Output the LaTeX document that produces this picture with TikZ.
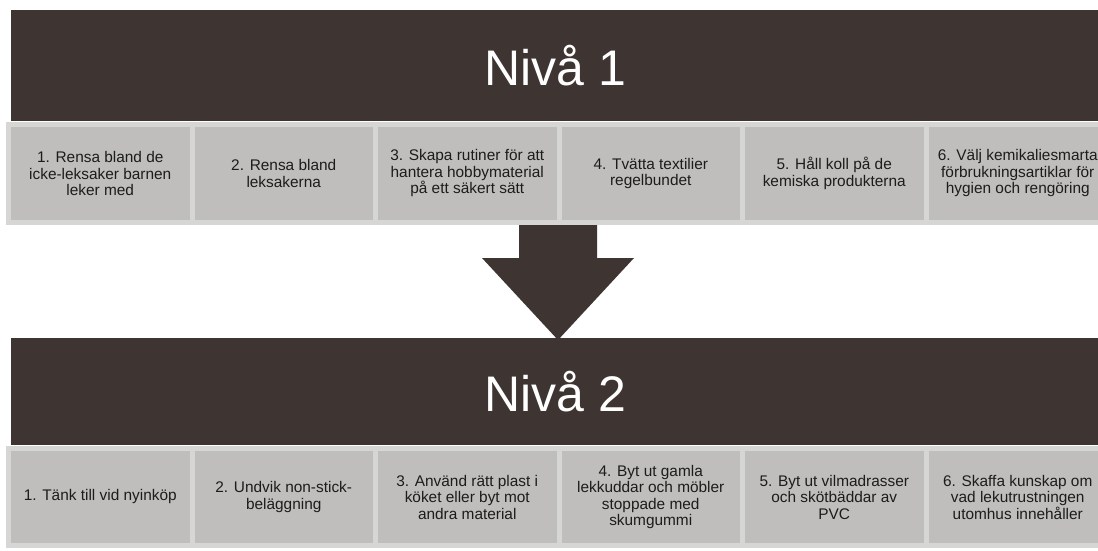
\documentclass[tikz,border=0pt]{standalone}
\usepackage{fontspec}
\setmainfont{Liberation Sans}
\usetikzlibrary{positioning}

\definecolor{bandbrown}{HTML}{3E3432}
\definecolor{boxgray}{HTML}{BFBEBC}
\definecolor{edgegray}{HTML}{D6D6D4}
\definecolor{textgray}{HTML}{1C1C1C}

\begin{document}
\begin{tikzpicture}[x=1pt,y=-1pt,node distance=0pt,
                    every node/.style={outer sep=0pt,inner sep=0pt}]

  \tikzstyle{band} = [fill=bandbrown, text=white, anchor=north west,
                      minimum width=1089pt, font=\fontsize{50}{60}\selectfont]
  \tikzstyle{item} = [fill=boxgray, draw=edgegray, line width=5pt,
                      minimum width=183.5pt, text=textgray, align=center,
                      font=\fontsize{15.4}{16.5}\selectfont]

  \useasboundingbox[fill=white] (0,0) rectangle (1098,551);

  % level 1
  \node[band, minimum height=111pt] (N1) at (11,10) {Nivå 1};
  \node[item, minimum height=98pt, anchor=north west] (A1) at (8.5,124.5)
        {1. Rensa bland de\\icke-leksaker barnen\\leker med};
  \node[item, minimum height=98pt] (A2) [right=of A1] {2. Rensa bland\\leksakerna};
  \node[item, minimum height=98pt] (A3) [right=of A2] {3. Skapa rutiner för att\\hantera hobbymaterial\\på ett säkert sätt};
  \node[item, minimum height=98pt] (A4) [right=of A3] {4. Tvätta textilier\\regelbundet};
  \node[item, minimum height=98pt] (A5) [right=of A4] {5. Håll koll på de\\kemiska produkterna};
  \node[item, minimum height=98pt] (A6) [right=of A5] {6. Välj kemikaliesmarta\\förbrukningsartiklar för\\hygien och rengöring};

  % big arrow down
  \fill[bandbrown] (519,225) -- (597,225) -- (597,258) -- (634,258)
        -- (558,340) -- (482,258) -- (519,258) -- cycle;

  % level 2
  \node[band, minimum height=107pt] (N2) at (11,338) {Nivå 2};
  \node[item, minimum height=97pt, anchor=north west] (B1) at (8.5,448.5)
        {1. Tänk till vid nyinköp};
  \node[item, minimum height=97pt] (B2) [right=of B1] {2. Undvik non-stick-\\beläggning};
  \node[item, minimum height=97pt] (B3) [right=of B2] {3. Använd rätt plast i\\köket eller byt mot\\andra material};
  \node[item, minimum height=97pt] (B4) [right=of B3] {4. Byt ut gamla\\lekkuddar och möbler\\stoppade med\\skumgummi};
  \node[item, minimum height=97pt] (B5) [right=of B4] {5. Byt ut vilmadrasser\\och skötbäddar av\\PVC};
  \node[item, minimum height=97pt] (B6) [right=of B5] {6. Skaffa kunskap om\\vad lekutrustningen\\utomhus innehåller};

\end{tikzpicture}
\end{document}
